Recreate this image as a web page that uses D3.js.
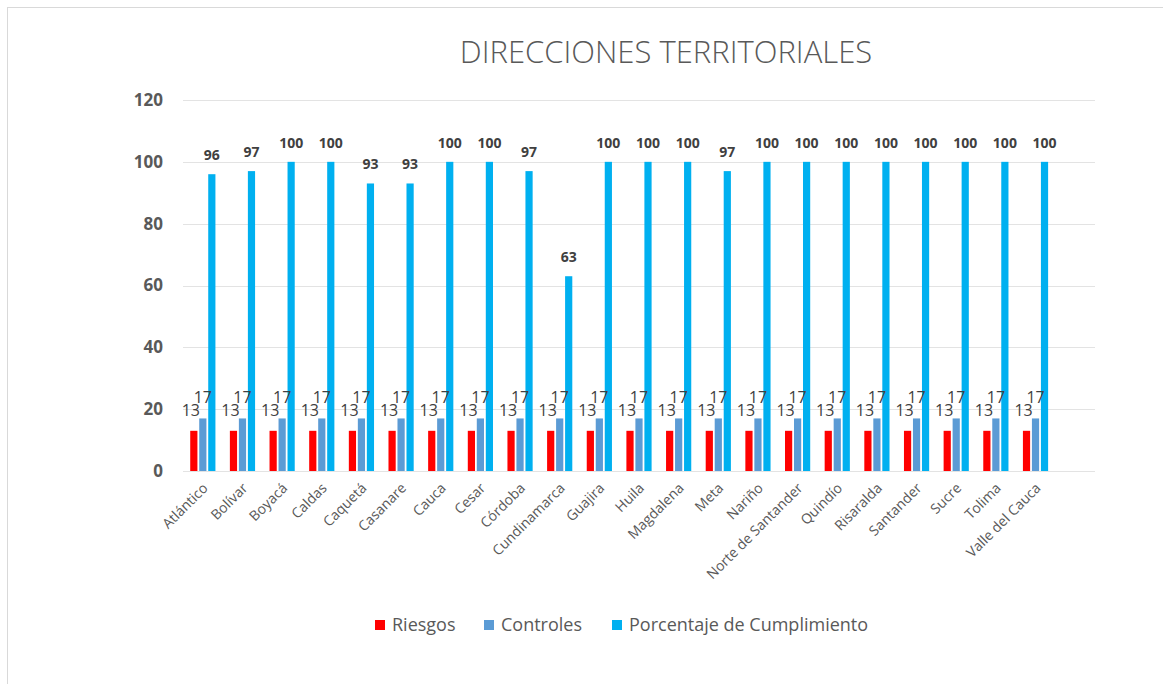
<!DOCTYPE html>
<meta charset="utf-8" />
<head>
<style>
  body { margin: 0; background: #fff; }
  svg text { font-family: "Open Sans", sans-serif; }
</style>
</head>
<script src="https://d3js.org/d3.v7.min.js"></script>
<div id="chart"></div>
<script>
// data
const departamentos = ["Atlántico", "Bolívar", "Boyacá", "Caldas", "Caquetá", "Casanare", "Cauca", "Cesar",
  "Córdoba", "Cundinamarca", "Guajira", "Huila", "Magdalena", "Meta", "Nariño", "Norte de Santander",
  "Quindío", "Risaralda", "Santander", "Sucre", "Tolima", "Valle del Cauca"];
const riesgos = [13, 13, 13, 13, 13, 13, 13, 13, 13, 13, 13, 13, 13, 13, 13, 13, 13, 13, 13, 13, 13, 13];
const controles = [17, 17, 17, 17, 17, 17, 17, 17, 17, 17, 17, 17, 17, 17, 17, 17, 17, 17, 17, 17, 17, 17];
const cumplimiento = [96, 97, 100, 100, 93, 93, 100, 100, 97, 63, 100, 100, 100, 97, 100, 100, 100, 100, 100, 100, 100, 100];
const seriesNames = ["Riesgos", "Controles", "Porcentaje de Cumplimiento"];
const seriesColors = ["#FF0000", "#5B9BD5", "#00B0F0"];
const yTicks = [0, 20, 40, 60, 80, 100, 120];

const width = 1163, height = 684;
const plot = { left: 183, right: 1095, top: 100, bottom: 471 };

const svg = d3.select("#chart").append("svg")
  .attr("width", width)
  .attr("height", height);

// chart frame
svg.append("rect")
  .attr("x", 7.5).attr("y", 7.5)
  .attr("width", width + 10).attr("height", height + 10)
  .attr("fill", "#fff")
  .attr("stroke", "#d9d9d9");

// title
svg.append("text")
  .attr("x", 666).attr("y", 63)
  .attr("text-anchor", "middle")
  .attr("font-size", "31px")
  .attr("font-weight", 300)
  .attr("fill", "#595959")
  .text("DIRECCIONES TERRITORIALES");

// the source sheet had one empty row at the end, so there is a blank slot
const x = d3.scaleBand()
  .domain(departamentos.concat([""]))
  .range([plot.left, plot.right]);

const xInner = d3.scaleBand()
  .domain(seriesNames)
  .range([-12.6, 12.6])
  .paddingInner(0.2);

const y = d3.scaleLinear()
  .domain([0, 120])
  .range([plot.bottom, plot.top]);

// gridlines
svg.append("g")
  .selectAll("line")
  .data(yTicks)
  .join("line")
  .attr("x1", plot.left).attr("x2", plot.right)
  .attr("y1", d => Math.round(y(d)) + 0.5)
  .attr("y2", d => Math.round(y(d)) + 0.5)
  .attr("stroke", "#e3e3e3");

// y axis labels
const yAxis = svg.append("g")
  .attr("transform", `translate(${plot.left - 20}, 0)`)
  .call(d3.axisLeft(y).tickValues(yTicks).tickSize(0).tickPadding(0));
yAxis.select(".domain").remove();
yAxis.selectAll("text")
  .attr("font-family", "Open Sans, sans-serif")
  .attr("font-size", "17px")
  .attr("font-weight", "bold")
  .attr("fill", "#595959");

// x axis labels
const xAxis = svg.append("g")
  .attr("transform", `translate(0, ${plot.bottom})`)
  .call(d3.axisBottom(x).tickSize(0).tickPadding(0));
xAxis.select(".domain").remove();
xAxis.selectAll("text")
  .attr("font-family", "Open Sans, sans-serif")
  .attr("font-size", "14px")
  .attr("fill", "#595959")
  .attr("text-anchor", "end")
  .attr("dy", null)
  .attr("y", 0)
  .attr("transform", "translate(6, 18) rotate(-45)");

const rows = departamentos.map((d, i) => ({
  name: d,
  values: [riesgos[i], controles[i], cumplimiento[i]]
}));

const groups = svg.append("g")
  .selectAll("g")
  .data(rows)
  .join("g")
  .attr("transform", d => `translate(${x(d.name) + x.bandwidth() / 2}, 0)`);

groups.selectAll("rect")
  .data(d => d.values.map((v, j) => ({ key: seriesNames[j], value: v, color: seriesColors[j] })))
  .join("rect")
  .attr("x", d => xInner(d.key))
  .attr("width", xInner.bandwidth())
  .attr("y", d => y(d.value))
  .attr("height", d => y(0) - y(d.value))
  .attr("fill", d => d.color);

groups.selectAll("text")
  .data(d => d.values.map((v, j) => ({ key: seriesNames[j], value: v, idx: j })))
  .join("text")
  .attr("x", d => xInner(d.key) + xInner.bandwidth() / 2 + (d.idx === 0 ? -3 : 0))
  .attr("y", d => y(d.value) - (d.idx === 2 ? 14 : 15))
  .attr("text-anchor", "middle")
  .attr("font-size", d => d.idx === 2 ? "14px" : "16px")
  .attr("font-weight", d => d.idx === 2 ? "bold" : "normal")
  .attr("fill", "#404040")
  .text(d => d.value);

// legend
const legendX = [375, 484, 612];
const legend = svg.append("g")
  .selectAll("g")
  .data(seriesNames)
  .join("g")
  .attr("transform", (d, i) => `translate(${legendX[i]}, 625)`);
legend.append("rect")
  .attr("x", 0).attr("y", -5)
  .attr("width", 10).attr("height", 10)
  .attr("fill", (d, i) => seriesColors[i]);
legend.append("text")
  .attr("x", 17).attr("y", 6)
  .attr("font-size", "18px")
  .attr("fill", "#595959")
  .text(d => d);
</script>
